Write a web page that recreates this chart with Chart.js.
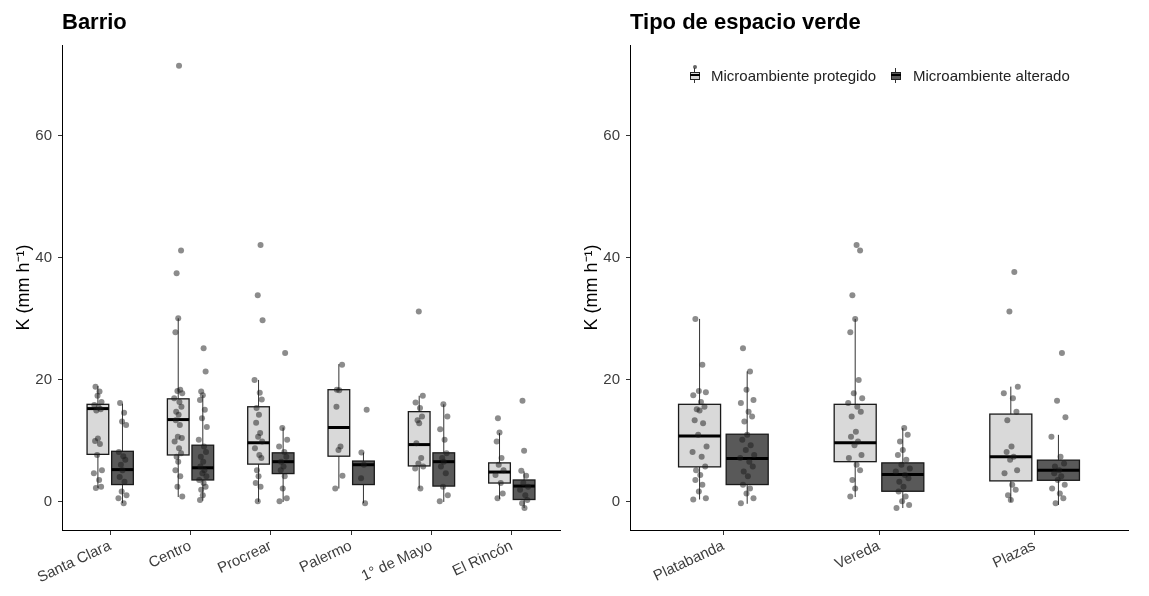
<!DOCTYPE html>
<html>
<head>
<meta charset="utf-8">
<script src="https://cdn.jsdelivr.net/npm/chart.js@4.4.1/dist/chart.umd.min.js"></script>
<style>
  body { margin: 0; background: #fff; width: 1149px; height: 596px; overflow: hidden; position: relative;
         font-family: 'Liberation Sans', Arial, sans-serif; }
  .panel { position: absolute; top: 0; height: 596px; }
  #left { left: 0; width: 568px; }
  #right { left: 568px; width: 581px; }
  .title { position: absolute; top: 11px; font-weight: bold; font-size: 22px; line-height: 22px; color: #000; }
  .leg { position: absolute; top: 67px; font-size: 15px; line-height: 17px; color: #222; white-space: nowrap; }
  .ico { position: absolute; top: 68px; width: 10px; height: 15px; }
  .ico i { position: absolute; display: block; }
  .ico .wh { left: 4px; top: 0; width: 1px; height: 15px; background: #333; }
  .ico .bx { left: 0; top: 4px; width: 8px; height: 6px; border: 1px solid #222; }
  .ico .md { left: 0; top: 6px; width: 10px; height: 2px; background: #000; }
  .ico .dt { left: 3px; top: -3px; width: 4px; height: 4px; border-radius: 50%; background: #666; }
</style>
</head>
<body>
<div class="panel" id="left"><canvas id="chart-barrio" width="568" height="596"></canvas></div>
<div class="panel" id="right"><canvas id="chart-espacio" width="581" height="596"></canvas></div>
<div class="title" style="left:62px">Barrio</div>
<div class="title" style="left:630px">Tipo de espacio verde</div>

<span class="ico" style="left:690px"><i class="dt"></i><i class="wh"></i><i class="bx" style="background:#d9d9d9"></i><i class="md"></i></span>
<span class="leg" style="left:711px">Microambiente protegido</span>
<span class="ico" style="left:891px"><i class="wh"></i><i class="bx" style="background:#595959"></i><i class="md"></i></span>
<span class="leg" style="left:913px">Microambiente alterado</span>

<script>
// categorias y ticks
const barrios = ['Santa Clara', 'Centro', 'Procrear', 'Palermo', '1° de Mayo', 'El Rincón'];
const espacios = ['Platabanda', 'Vereda', 'Plazas'];
const yTicks = [0, 20, 40, 60];
const series = ['Microambiente protegido', 'Microambiente alterado'];

// cajas: [bigote inf, Q1, mediana, Q3, bigote sup]
const barrioProtBox = [
  [2.3, 7.8, 15.3, 16.0, 19.0],
  [0.8, 7.7, 13.5, 16.9, 30.1],
  [0.0, 6.2, 9.7, 15.6, 20.0],
  [2.2, 7.5, 12.2, 18.4, 22.6],
  [2.2, 5.9, 9.4, 14.8, 17.4],
  [0.5, 3.1, 4.9, 6.4, 11.3]
];
const barrioAltBox = [
  [-0.2, 2.85, 5.3, 8.3, 16.1],
  [0.2, 3.6, 5.6, 9.3, 17.5],
  [0.0, 4.65, 6.6, 8.05, 12.2],
  [-0.2, 2.85, 6.1, 6.7, 8.1],
  [0.0, 2.6, 6.6, 8.05, 16.0],
  [-1.0, 0.4, 2.6, 3.6, 5.0]
];
const espacioProtBox = [
  [0.4, 5.75, 10.8, 16.0, 30.0],
  [0.8, 6.6, 9.7, 16.0, 30.0],
  [0.0, 3.45, 7.4, 14.4, 18.9]
];
const espacioAltBox = [
  [-0.3, 2.85, 7.1, 11.1, 21.4],
  [-1.0, 1.75, 4.5, 6.4, 12.1],
  [-0.5, 3.55, 5.2, 6.85, 11.0]
];

// observaciones (K, mm/h)
const barrioProtPts = [
  [18.9, 18.1, 17.4, 16.4, 15.9, 15.5, 15.2, 15.0, 10.4, 10.0, 9.5, 7.7, 5.2, 4.7, 3.6, 2.5, 2.3],
  [71.5, 41.2, 37.5, 30.1, 27.8, 18.4, 18.2, 17.8, 17.0, 16.4, 15.6, 14.8, 14.3, 13.4, 12.6, 10.7, 10.5, 9.9, 8.8, 8.0, 7.4, 6.6, 5.2, 4.2, 2.5, 0.9],
  [42.1, 33.9, 29.8, 20.0, 17.9, 16.8, 15.4, 14.3, 13.0, 11.3, 10.7, 9.9, 8.8, 7.7, 7.2, 5.2, 4.2, 3.1, 2.5, 0.1],
  [22.5, 18.4, 18.3, 15.6, 9.1, 8.5, 4.3, 2.2],
  [31.2, 17.4, 16.3, 15.4, 14.0, 13.4, 12.9, 9.6, 7.2, 6.3, 5.8, 5.5, 2.2],
  [13.7, 11.4, 9.9, 7.2, 6.1, 5.2, 4.4, 3.1, 1.4, 0.6]
];
const barrioAltPts = [
  [16.2, 14.6, 13.2, 12.6, 8.2, 7.5, 6.9, 6.1, 5.2, 4.1, 3.3, 1.7, 1.1, 0.6, -0.2],
  [25.2, 21.4, 18.1, 17.5, 16.7, 15.1, 13.7, 12.3, 10.2, 9.1, 8.2, 7.4, 6.6, 5.8, 5.2, 4.7, 4.2, 3.6, 3.1, 2.5, 2.0, 1.1, 0.3],
  [24.4, 12.1, 10.2, 9.1, 8.2, 7.4, 6.6, 5.8, 5.2, 4.2, 2.2, 0.6, 0.1],
  [15.1, 8.1, 6.1, 3.9, -0.2],
  [16.0, 14.0, 11.9, 10.2, 8.0, 7.2, 6.6, 5.8, 4.7, 2.5, 1.1, 0.1],
  [16.6, 8.4, 5.1, 4.3, 3.1, 2.5, 2.0, 1.1, 0.3, -0.2, -1.0]
];
const espacioProtPts = [
  [30.0, 22.5, 18.2, 18.0, 17.5, 16.4, 15.6, 15.2, 15.0, 13.4, 12.9, 11.0, 9.1, 8.2, 7.4, 5.8, 5.2, 4.4, 3.6, 2.8, 1.7, 0.6, 0.4],
  [42.1, 41.2, 33.9, 30.0, 27.8, 20.0, 17.8, 17.0, 16.2, 15.6, 14.8, 14.0, 11.5, 10.7, 9.9, 9.3, 7.7, 7.2, 6.1, 5.2, 3.6, 2.2, 0.9],
  [37.7, 31.2, 18.9, 17.8, 17.0, 14.8, 13.4, 9.1, 8.2, 7.4, 6.9, 5.2, 4.7, 2.8, 2.0, 1.1, 0.3]
];
const espacioAltPts = [
  [25.2, 21.4, 18.4, 16.7, 16.2, 14.8, 14.0, 13.2, 11.0, 10.2, 9.3, 8.5, 7.7, 7.2, 6.6, 5.8, 5.0, 4.2, 2.8, 2.2, 1.4, 0.6, -0.2],
  [12.1, 11.0, 9.9, 8.5, 7.7, 6.9, 6.1, 5.5, 5.0, 4.4, 3.9, 3.3, 2.5, 1.7, 0.9, 0.1, -0.5, -1.0],
  [24.4, 16.6, 13.9, 10.7, 7.4, 6.3, 5.8, 5.2, 4.7, 4.2, 3.6, 2.8, 2.2, 1.4, 0.6, -0.2]
];

// dispersion horizontal fija de los puntos (fraccion del ancho de jitter)
const JITTER = [-0.6, 0.4, -0.1, 0.9, -0.9, 0.2, 0.7, -0.4, 0.0, -0.7, 0.5, -0.2, 1.0, -1.0, 0.3, 0.8, -0.5, 0.1];

const FONT = "'Liberation Sans', Arial, sans-serif";
const DODGE = 0.153;
const BOX_W = 0.27;
const FILLS = ['#d9d9d9', '#595959'];

function toPoints(groups, side, jw) {
  const out = [];
  groups.forEach((vals, i) => {
    vals.forEach((v, j) => {
      out.push({ x: i + 1 + side * DODGE + JITTER[(j + i * 5) % JITTER.length] * jw, y: v });
    });
  });
  return out;
}

const boxPlugin = {
  id: 'boxes',
  beforeDatasetsDraw(chart) {
    const { ctx, scales: { x, y } } = chart;
    const boxes = chart.options.plugins.boxes.data;
    ctx.save();
    boxes.forEach((set, s) => {
      const side = s === 0 ? -1 : 1;
      set.forEach((b, i) => {
        const cx = x.getPixelForValue(i + 1 + side * DODGE);
        const x0 = x.getPixelForValue(i + 1 + side * DODGE - BOX_W / 2);
        const x1 = x.getPixelForValue(i + 1 + side * DODGE + BOX_W / 2);
        const [lo, q1, med, q3, hi] = b.map(v => y.getPixelForValue(v));
        // bigotes
        ctx.strokeStyle = '#333';
        ctx.lineWidth = 1;
        ctx.beginPath();
        ctx.moveTo(cx, lo); ctx.lineTo(cx, q1);
        ctx.moveTo(cx, q3); ctx.lineTo(cx, hi);
        ctx.stroke();
        // caja
        ctx.fillStyle = FILLS[s];
        ctx.fillRect(x0, q3, x1 - x0, q1 - q3);
        ctx.strokeStyle = '#1a1a1a';
        ctx.lineWidth = 1.3;
        ctx.strokeRect(x0, q3, x1 - x0, q1 - q3);
        // mediana
        ctx.strokeStyle = '#000';
        ctx.lineWidth = 3;
        ctx.beginPath();
        ctx.moveTo(x0, med); ctx.lineTo(x1, med);
        ctx.stroke();
      });
    });
    ctx.restore();
  }
};

function makePanel(id, cats, protBox, altBox, protPts, altPts, jw, padRight) {
  const ctx = document.getElementById(id);
  const pointStyle = {
    type: 'scatter',
    pointRadius: 3,
    pointHoverRadius: 3,
    pointBorderWidth: 0,
    pointBackgroundColor: 'rgba(25,25,25,0.5)'
  };
  return new Chart(ctx, {
    type: 'scatter',
    data: {
      datasets: [
        Object.assign({ label: series[0], data: toPoints(protPts, -1, jw) }, pointStyle),
        Object.assign({ label: series[1], data: toPoints(altPts, 1, jw) }, pointStyle)
      ]
    },
    options: {
      responsive: false,
      animation: false,
      layout: { padding: { left: 13, right: padRight, top: 45, bottom: 0 } },
      plugins: {
        legend: { display: false },
        tooltip: { enabled: false },
        boxes: { data: [protBox, altBox] }
      },
      scales: {
        x: {
          type: 'linear',
          min: 0.4,
          max: cats.length + 0.6,
          afterBuildTicks: s => { s.ticks = cats.map((c, i) => ({ value: i + 1 })); },
          afterFit: s => { s.height = 66; },
          ticks: {
            callback: (v, i) => cats[i],
            autoSkip: false,
            minRotation: 25,
            maxRotation: 25,
            padding: 2,
            color: '#3d3d3d',
            font: { family: FONT, size: 15 }
          },
          grid: { drawOnChartArea: false, tickLength: 5, color: '#333' },
          border: { color: '#000', width: 1 }
        },
        y: {
          min: -4.6,
          max: 74.9,
          afterBuildTicks: s => { s.ticks = yTicks.map(v => ({ value: v })); },
          afterFit: s => { s.width = 49; },
          ticks: {
            padding: 6,
            color: '#3d3d3d',
            font: { family: FONT, size: 15 }
          },
          grid: { drawOnChartArea: false, tickLength: 4, color: '#333' },
          border: { color: '#000', width: 1 },
          title: {
            display: true,
            text: 'K (mm h⁻¹)',
            color: '#000',
            padding: 0,
            font: { family: FONT, size: 18 }
          }
        }
      }
    },
    plugins: [boxPlugin]
  });
}

makePanel('chart-barrio', barrios, barrioProtBox, barrioAltBox, barrioProtPts, barrioAltPts, 0.05, 8);
makePanel('chart-espacio', espacios, espacioProtBox, espacioAltBox, espacioProtPts, espacioAltPts, 0.045, 21);
</script>
</body>
</html>
